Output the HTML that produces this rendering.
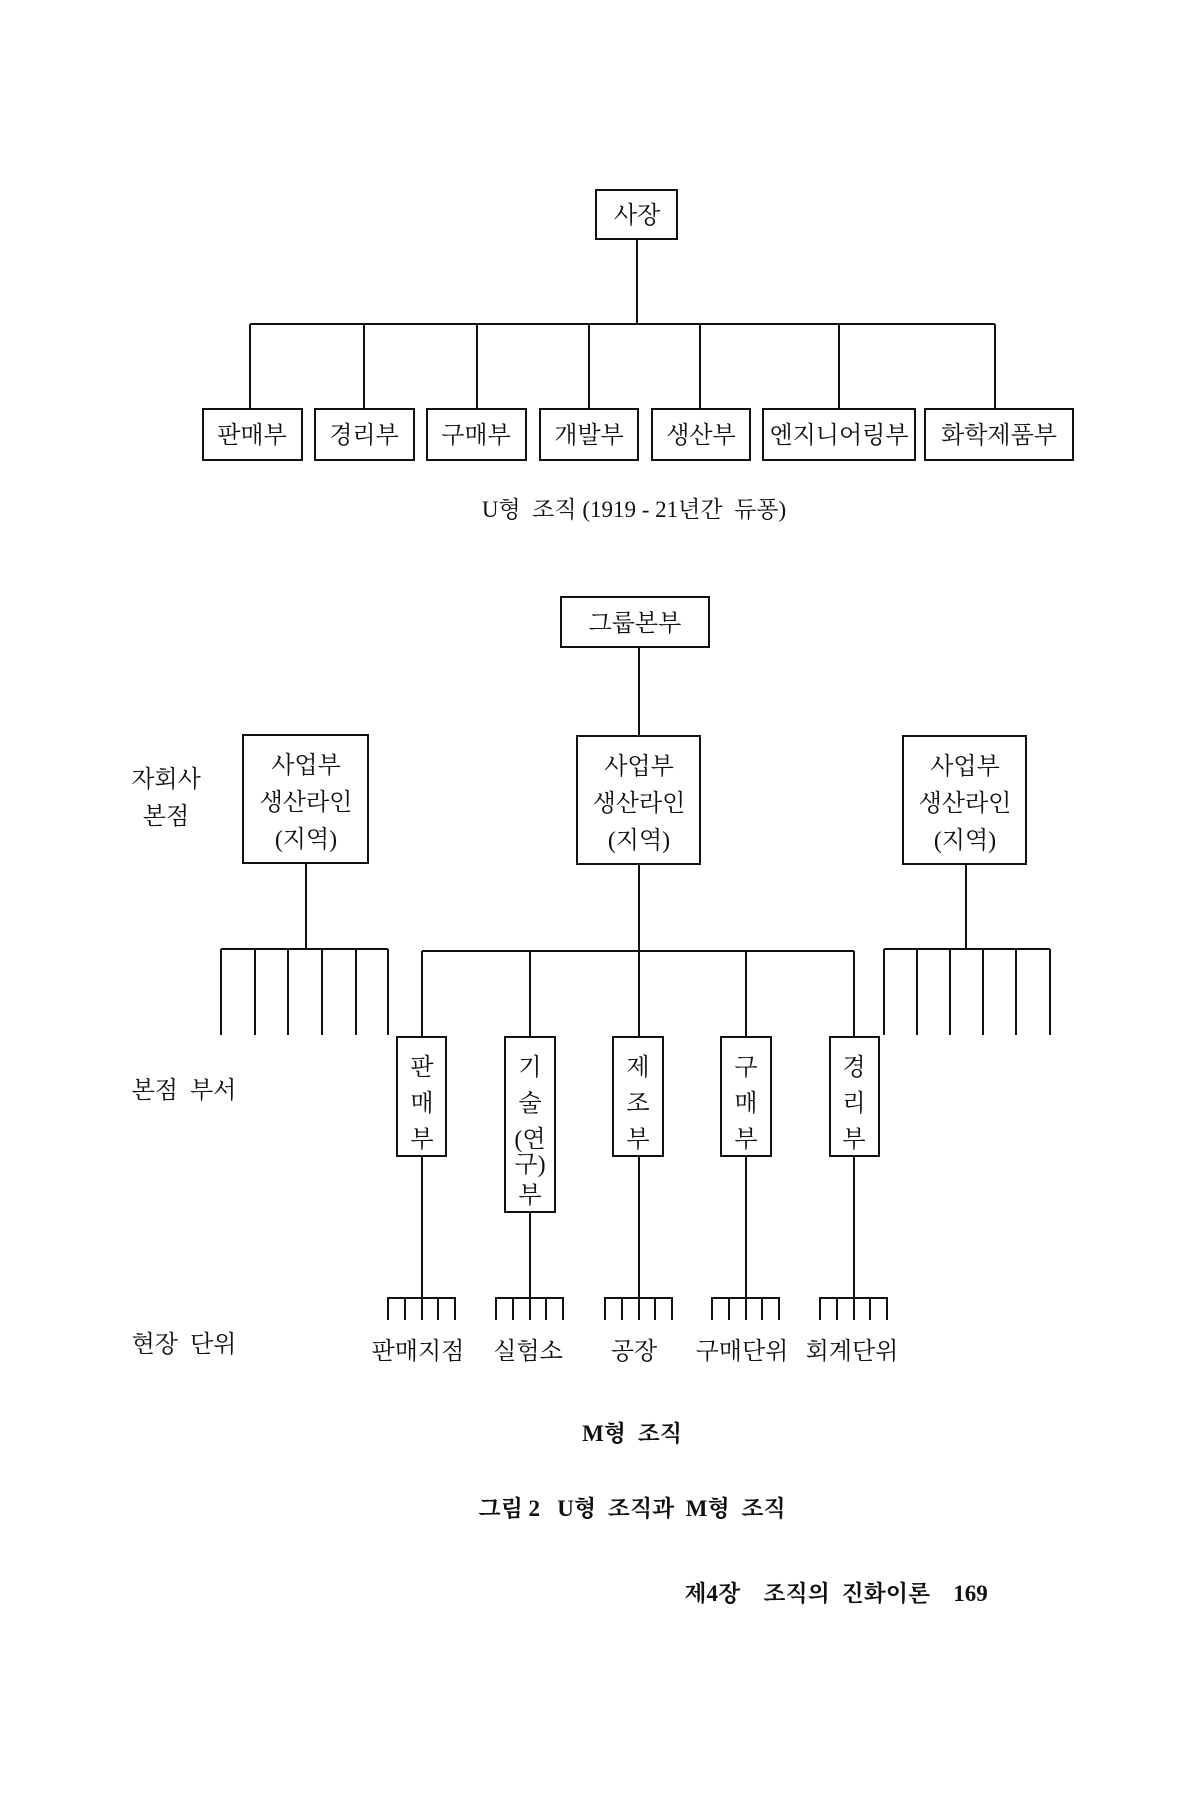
<!DOCTYPE html>
<html><head><meta charset="utf-8"><style>
html,body{margin:0;padding:0;background:#fff;}
svg{display:block;}
text{font-family:"Liberation Serif","Noto Serif CJK SC","Noto Sans CJK KR",serif;fill:#111;white-space:pre;}
</style></head><body>
<svg width="1200" height="1800" viewBox="0 0 1200 1800" xmlns="http://www.w3.org/2000/svg" xml:space="preserve">
<rect width="1200" height="1800" fill="#fff"/>
<g stroke="#111" stroke-width="2" fill="none">
<rect x="596" y="190" width="81" height="49"/>
<line x1="637" y1="239" x2="637" y2="324"/>
<line x1="250" y1="324" x2="995" y2="324"/>
<line x1="250" y1="324" x2="250" y2="409"/>
<line x1="364" y1="324" x2="364" y2="409"/>
<line x1="477" y1="324" x2="477" y2="409"/>
<line x1="589" y1="324" x2="589" y2="409"/>
<line x1="700" y1="324" x2="700" y2="409"/>
<line x1="839" y1="324" x2="839" y2="409"/>
<line x1="995" y1="324" x2="995" y2="409"/>
<rect x="203" y="409" width="99" height="51"/>
<rect x="315" y="409" width="99" height="51"/>
<rect x="427" y="409" width="99" height="51"/>
<rect x="540" y="409" width="98" height="51"/>
<rect x="652" y="409" width="98" height="51"/>
<rect x="763" y="409" width="152" height="51"/>
<rect x="925" y="409" width="148" height="51"/>
<rect x="561" y="597" width="148" height="50"/>
<line x1="639" y1="647" x2="639" y2="736"/>
<rect x="243" y="735" width="125" height="128"/>
<rect x="577" y="736" width="123" height="128"/>
<rect x="903" y="736" width="123" height="128"/>
<line x1="306" y1="863" x2="306" y2="949"/>
<line x1="221" y1="949" x2="388" y2="949"/>
<line x1="221" y1="949" x2="221" y2="1035"/><line x1="255" y1="949" x2="255" y2="1035"/><line x1="288" y1="949" x2="288" y2="1035"/><line x1="322" y1="949" x2="322" y2="1035"/><line x1="356" y1="949" x2="356" y2="1035"/><line x1="388" y1="949" x2="388" y2="1035"/>
<line x1="966" y1="864" x2="966" y2="949"/>
<line x1="884" y1="949" x2="1050" y2="949"/>
<line x1="884" y1="949" x2="884" y2="1035"/><line x1="917" y1="949" x2="917" y2="1035"/><line x1="950" y1="949" x2="950" y2="1035"/><line x1="983" y1="949" x2="983" y2="1035"/><line x1="1016" y1="949" x2="1016" y2="1035"/><line x1="1050" y1="949" x2="1050" y2="1035"/>
<line x1="639" y1="864" x2="639" y2="1037"/>
<line x1="422" y1="951" x2="854" y2="951"/>
<line x1="422" y1="951" x2="422" y2="1037"/><line x1="530" y1="951" x2="530" y2="1037"/><line x1="746" y1="951" x2="746" y2="1037"/><line x1="854" y1="951" x2="854" y2="1037"/>
<rect x="397" y="1037" width="49" height="119"/>
<rect x="505" y="1037" width="50" height="175"/>
<rect x="613" y="1037" width="50" height="119"/>
<rect x="721" y="1037" width="50" height="119"/>
<rect x="830" y="1037" width="49" height="119"/>
<line x1="422" y1="1156" x2="422" y2="1320"/>
<line x1="530" y1="1212" x2="530" y2="1320"/>
<line x1="639" y1="1156" x2="639" y2="1320"/>
<line x1="746" y1="1156" x2="746" y2="1320"/>
<line x1="854" y1="1156" x2="854" y2="1320"/>
</g>
<g stroke="#111" stroke-width="2" fill="none">
<path d="M388 1320V1298H455V1320M405 1298V1320M438 1298V1320"/>
<path d="M496 1320V1298H563V1320M513 1298V1320M546 1298V1320"/>
<path d="M605 1320V1298H672V1320M622 1298V1320M655 1298V1320"/>
<path d="M712 1320V1298H779V1320M729 1298V1320M762 1298V1320"/>
<path d="M820 1320V1298H887V1320M837 1298V1320M870 1298V1320"/>
</g>
<g font-size="24" text-anchor="middle">
<text x="637" y="223">사장</text>
<text x="252" y="443">판매부</text>
<text x="364" y="443">경리부</text>
<text x="476" y="443">구매부</text>
<text x="589" y="443">개발부</text>
<text x="701" y="443">생산부</text>
<text x="839" y="443">엔지니어링부</text>
<text x="999" y="443">화학제품부</text>
<text x="634" y="517" font-size="23">U형  조직 (1919 - 21년간  듀퐁)</text>
<text x="635" y="631">그룹본부</text>
<text x="306" y="773">사업부</text><text x="306" y="810">생산라인</text><text x="306" y="847">(지역)</text>
<text x="639" y="774">사업부</text><text x="639" y="811">생산라인</text><text x="639" y="848">(지역)</text>
<text x="965" y="774">사업부</text><text x="965" y="811">생산라인</text><text x="965" y="848">(지역)</text>
<text x="166" y="787">자회사</text><text x="166" y="824">본점</text>
<text x="184" y="1098">본점  부서</text>
<text x="184" y="1352">현장  단위</text>
<text x="422" y="1075">판</text><text x="422" y="1111">매</text><text x="422" y="1147">부</text>
<text x="530" y="1075">기</text><text x="530" y="1111">술</text><text x="530" y="1147">(연</text><text x="530" y="1172">구)</text><text x="530" y="1203">부</text>
<text x="638" y="1075">제</text><text x="638" y="1111">조</text><text x="638" y="1147">부</text>
<text x="746" y="1075">구</text><text x="746" y="1111">매</text><text x="746" y="1147">부</text>
<text x="854" y="1075">경</text><text x="854" y="1111">리</text><text x="854" y="1147">부</text>
<text x="418" y="1359">판매지점</text>
<text x="528" y="1359">실험소</text>
<text x="634" y="1359">공장</text>
<text x="742" y="1359">구매단위</text>
<text x="852" y="1359">회계단위</text>
<text x="632" y="1441" font-weight="bold" font-size="23">M형  조직</text>
<text x="632" y="1516" font-weight="bold" font-size="23">그림 2   U형  조직과  M형  조직</text>
<text x="836" y="1601" font-weight="bold" font-size="23">제4장    조직의  진화이론    169</text>
</g>
</svg>
</body></html>
